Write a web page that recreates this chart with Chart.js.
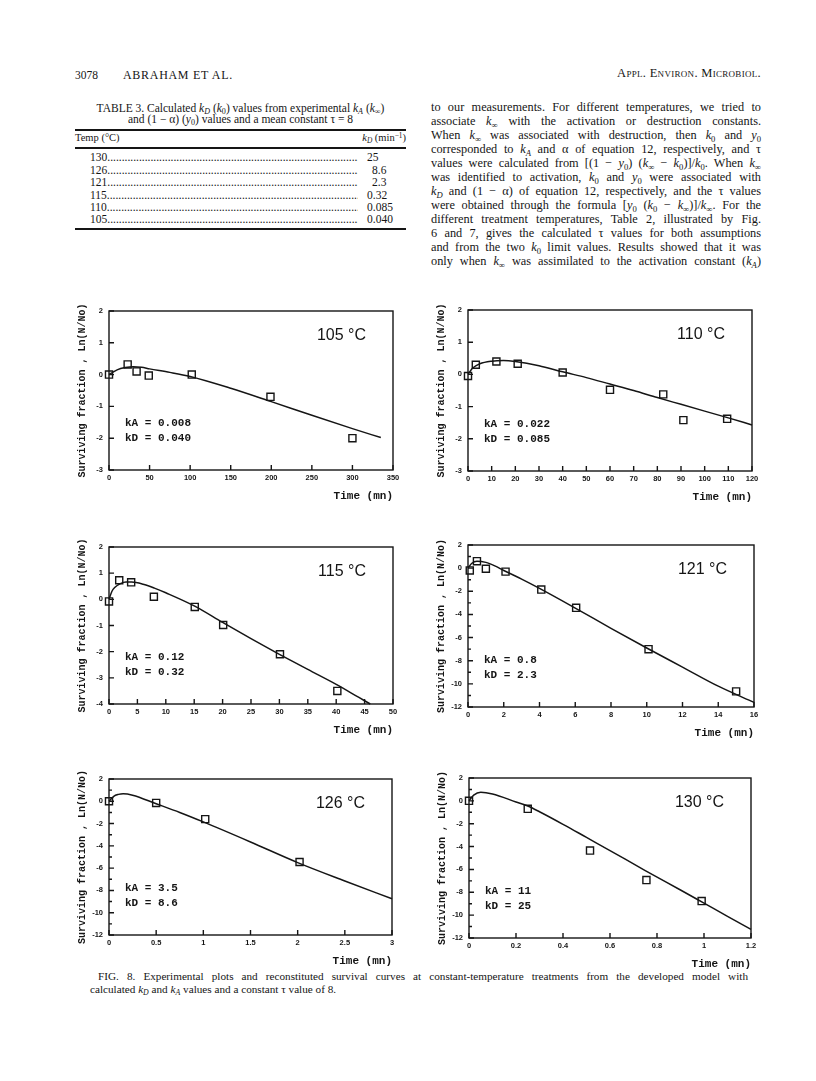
<!DOCTYPE html>
<html>
<head>
<meta charset="utf-8">
<script src="https://cdn.jsdelivr.net/npm/chart.js@4.4.1/dist/chart.umd.min.js"></script>
<style>
  html, body { margin: 0; padding: 0; background: #fff; }
  #page { position: relative; width: 816px; height: 1081px; overflow: hidden; font-family: "Liberation Serif", "Times New Roman", serif; color: #151515; }
  .abs { position: absolute; white-space: nowrap; }
  .rule { position: absolute; background: #151515; }
  sub { font-size: 70%; vertical-align: baseline; position: relative; top: 0.3em; line-height: 0; }
  sup { font-size: 70%; vertical-align: baseline; position: relative; top: -0.45em; line-height: 0; }
  .line { position: absolute; left: 431px; width: 330px; font-size: 12.3px; line-height: 14px; height: 14px; text-align: justify; text-align-last: justify; white-space: nowrap; }
  .row { position: absolute; left: 90px; width: 268px; font-size: 11.5px; line-height: 12px; overflow: hidden; white-space: nowrap; }
  .val { position: absolute; font-size: 11.5px; line-height: 12px; }
  .cap { position: absolute; font-size: 11.2px; line-height: 13px; text-align: justify; text-align-last: justify; white-space: nowrap; }
</style>
</head>
<body>
<div id="page">
  <!-- en-tête -->
  <div class="abs" style="left:75px; top:68px; font-size:11.5px; line-height:14px;">3078</div>
  <div class="abs" style="left:123px; top:68px; font-size:12px; line-height:14px; letter-spacing:0.7px;">ABRAHAM ET AL.</div>
  <div class="abs" style="left:560px; width:201px; text-align:right; top:66px; font-size:12.5px; line-height:14px; font-variant:small-caps; letter-spacing:0.3px;">Appl. Environ. Microbiol.</div>

  <!-- tableau 3 -->
  <div class="abs" style="left:75px; width:331px; top:103px; text-align:center; font-size:11.5px; line-height:11px; white-space:normal;">TABLE 3. Calculated <i>k<sub>D</sub></i> (<i>k</i><sub>0</sub>) values from experimental <i>k<sub>A</sub></i> (<i>k</i><sub>∞</sub>)<br>and (1 − α) (<i>y</i><sub>0</sub>) values and a mean constant τ = 8</div>
  <div class="rule" style="left:75px; top:129px; width:331px; height:2px;"></div>
  <div class="abs" style="left:75px; top:132px; font-size:10.5px; line-height:12px;">Temp (°C)</div>
  <div class="abs" style="left:300px; width:106px; text-align:right; top:132px; font-size:10.5px; line-height:12px;"><i>k<sub>D</sub></i> (min<sup>−1</sup>)</div>
  <div class="rule" style="left:75px; top:147px; width:331px; height:1.5px;"></div>
  <div id="rows"></div>
  <div class="rule" style="left:75px; top:228px; width:331px; height:2px;"></div>

  <!-- texte -->
  <div class="line" style="top:100px;">to our measurements. For different temperatures, we tried to</div>
  <div class="line" style="top:114px;">associate <i>k</i><sub>∞</sub> with the activation or destruction constants.</div>
  <div class="line" style="top:128px;">When <i>k</i><sub>∞</sub> was associated with destruction, then <i>k</i><sub>0</sub> and <i>y</i><sub>0</sub></div>
  <div class="line" style="top:142px;">corresponded to <i>k<sub>A</sub></i> and α of equation 12, respectively, and τ</div>
  <div class="line" style="top:156px;">values were calculated from [(1 − <i>y</i><sub>0</sub>) (<i>k</i><sub>∞</sub> − <i>k</i><sub>0</sub>)]/<i>k</i><sub>0</sub>. When <i>k</i><sub>∞</sub></div>
  <div class="line" style="top:170px;">was identified to activation, <i>k</i><sub>0</sub> and <i>y</i><sub>0</sub> were associated with</div>
  <div class="line" style="top:184px;"><i>k<sub>D</sub></i> and (1 − α) of equation 12, respectively, and the τ values</div>
  <div class="line" style="top:198px;">were obtained through the formula [<i>y</i><sub>0</sub> (<i>k</i><sub>0</sub> − <i>k</i><sub>∞</sub>)]/<i>k</i><sub>∞</sub>. For the</div>
  <div class="line" style="top:212px;">different treatment temperatures, Table 2, illustrated by Fig.</div>
  <div class="line" style="top:226px;">6 and 7, gives the calculated τ values for both assumptions</div>
  <div class="line" style="top:240px;">and from the two <i>k</i><sub>0</sub> limit values. Results showed that it was</div>
  <div class="line" style="top:254px;">only when <i>k</i><sub>∞</sub> was assimilated to the activation constant (<i>k<sub>A</sub></i>)</div>

  <!-- légende -->
  <div class="cap" style="left:98px; width:650px; top:970px;">FIG. 8. Experimental plots and reconstituted survival curves at constant-temperature treatments from the developed model with</div>
  <div class="abs" style="left:90px; top:983px; font-size:11.2px; line-height:13px;">calculated <i>k<sub>D</sub></i> and <i>k<sub>A</sub></i> values and a constant τ value of 8.</div>
</div>

<script>
// Tableau 3 : températures et kD
const tableTemps = ['130', '126', '121', '115', '110', '105'];
const tableKD = ['25', '8.6', '2.3', '0.32', '0.085', '0.040'];

// 105 °C
const t105 = [0, 23, 34, 49, 102, 199, 300];
const n105 = [0, 0.32, 0.1, -0.03, 0.0, -0.7, -2.0];
const fitT105 = [0, 5, 10, 20, 30, 40, 50, 75, 100, 150, 200, 250, 300, 335];
const fitN105 = [0, 0.08, 0.15, 0.22, 0.25, 0.23, 0.18, 0.07, -0.06, -0.43, -0.85, -1.28, -1.7, -1.98];

// 110 °C
const t110 = [0, 3.3, 12, 21, 40, 60, 82.5, 91, 109.5];
const n110 = [-0.05, 0.3, 0.4, 0.33, 0.06, -0.48, -0.62, -1.42, -1.38];
const fitT110 = [0, 2, 5, 10, 15, 20, 30, 40, 50, 60, 70, 80, 90, 100, 110, 120];
const fitN110 = [0, 0.2, 0.33, 0.41, 0.43, 0.4, 0.27, 0.08, -0.1, -0.3, -0.5, -0.72, -0.93, -1.14, -1.35, -1.57];

// 115 °C
const t115 = [0, 1.8, 3.9, 7.9, 15.1, 20.1, 30.1, 40.2];
const n115 = [-0.08, 0.73, 0.65, 0.1, -0.29, -0.98, -2.1, -3.5];
const fitT115 = [0, 0.5, 1, 2, 3, 4, 6, 8, 10, 15, 20, 25, 30, 35, 40, 44, 46];
const fitN115 = [0, 0.3, 0.45, 0.6, 0.66, 0.66, 0.58, 0.43, 0.25, -0.25, -0.88, -1.5, -2.1, -2.68, -3.25, -3.75, -4.0];

// 121 °C
const t121 = [0.1, 0.5, 1.0, 2.1, 4.1, 6.05, 10.1, 15];
const n121 = [-0.2, 0.6, -0.05, -0.3, -1.85, -3.43, -7.0, -10.65];
const fitT121 = [0, 0.2, 0.5, 1, 1.5, 2, 3, 4, 6, 8, 10, 12, 14, 16];
const fitN121 = [0, 0.4, 0.6, 0.5, 0.2, -0.2, -0.95, -1.75, -3.45, -5.2, -6.9, -8.55, -10.2, -11.6];

// 126 °C
const t126 = [0, 0.5, 1.02, 2.02];
const n126 = [0, -0.15, -1.6, -5.45];
const fitT126 = [0, 0.05, 0.1, 0.15, 0.25, 0.5, 0.75, 1, 1.5, 2, 2.5, 3];
const fitN126 = [0, 0.45, 0.62, 0.68, 0.55, -0.22, -1.0, -1.85, -3.65, -5.5, -7.15, -8.75];

// 130 °C
const t130 = [0, 0.25, 0.515, 0.755, 0.99];
const n130 = [0, -0.7, -4.35, -6.93, -8.77];
const fitT130 = [0, 0.02, 0.05, 0.1, 0.2, 0.25, 0.3, 0.4, 0.5, 0.6, 0.75, 0.9, 1, 1.1, 1.2];
const fitN130 = [0, 0.5, 0.75, 0.6, -0.1, -0.45, -0.95, -2.05, -3.2, -4.35, -6.1, -7.8, -8.95, -10.1, -11.25];

// lignes du tableau
const rowsEl = document.getElementById('rows');
const rowTops = [151, 163.5, 176, 188.5, 201, 213];
const valLeft = [367, 372, 372, 367, 367, 367];
tableTemps.forEach((temp, i) => {
    const r = document.createElement('div');
    r.className = 'row';
    r.style.top = rowTops[i] + 'px';
    r.textContent = temp + '.'.repeat(120);
    rowsEl.appendChild(r);
    const v = document.createElement('div');
    v.className = 'val';
    v.style.top = rowTops[i] + 'px';
    v.style.left = valLeft[i] + 'px';
    v.textContent = tableKD[i];
    rowsEl.appendChild(v);
});

// cadre, graduations intérieures et annotations
const panelDecor = {
    id: 'panelDecor',
    afterDraw(chart, args, opts) {
        const { ctx, chartArea: a, scales: { x, y } } = chart;
        ctx.save();
        ctx.strokeStyle = '#151515';
        ctx.lineWidth = 1.4;
        ctx.strokeRect(a.left, a.top, a.right - a.left, a.bottom - a.top);
        ctx.beginPath();
        x.ticks.forEach(t => {
            const px = x.getPixelForValue(t.value);
            ctx.moveTo(px, a.bottom);
            ctx.lineTo(px, a.bottom - 5);
        });
        y.ticks.forEach(t => {
            const py = y.getPixelForValue(t.value);
            ctx.moveTo(a.left, py);
            ctx.lineTo(a.left + 5, py);
        });
        if (opts.yMinor) {
            for (let v = y.min + opts.yMinor; v < y.max; v += 2 * opts.yMinor) {
                const py = y.getPixelForValue(v);
                ctx.moveTo(a.left, py);
                ctx.lineTo(a.left + 3, py);
            }
        }
        ctx.stroke();

        ctx.fillStyle = '#151515';
        ctx.font = '16px "Liberation Sans", Arial, sans-serif';
        ctx.textAlign = 'right';
        ctx.textBaseline = 'middle';
        ctx.fillText(opts.temp, a.right - 27, a.top + 25);

        ctx.font = 'bold 11px "Liberation Mono", monospace';
        ctx.textAlign = 'left';
        ctx.fillText('kA = ' + opts.kA, a.left + 16, a.bottom - 47);
        ctx.fillText('kD = ' + opts.kD, a.left + 16, a.bottom - 32);
        ctx.restore();
    }
};

Chart.defaults.font.family = '"Liberation Sans", Arial, sans-serif';
Chart.defaults.color = '#151515';

const fmt = (v) => String(+Number(v).toFixed(2));

const panels = [
    { temp: '105 °C', kA: '0.008', kD: '0.040', t: t105, n: n105, fitT: fitT105, fitN: fitN105, x: [0, 350, 50], y: [-3, 2, 1], yMinor: 0, box: [109, 311, 393, 470] },
    { temp: '110 °C', kA: '0.022', kD: '0.085', t: t110, n: n110, fitT: fitT110, fitN: fitN110, x: [0, 120, 10], y: [-3, 2, 1], yMinor: 0, box: [468, 310, 752, 471] },
    { temp: '115 °C', kA: '0.12', kD: '0.32', t: t115, n: n115, fitT: fitT115, fitN: fitN115, x: [0, 50, 5], y: [-4, 2, 1], yMinor: 0, box: [109, 547, 393, 704] },
    { temp: '121 °C', kA: '0.8', kD: '2.3', t: t121, n: n121, fitT: fitT121, fitN: fitN121, x: [0, 16, 2], y: [-12, 2, 2], yMinor: 1, box: [468, 545, 754, 707] },
    { temp: '126 °C', kA: '3.5', kD: '8.6', t: t126, n: n126, fitT: fitT126, fitN: fitN126, x: [0, 3, 0.5], y: [-12, 2, 2], yMinor: 1, box: [109, 779, 392, 935] },
    { temp: '130 °C', kA: '11', kD: '25', t: t130, n: n130, fitT: fitT130, fitN: fitN130, x: [0, 1.2, 0.2], y: [-12, 2, 2], yMinor: 1, box: [469, 778, 751, 938] }
];

const makePanel = (p) => {
    const [L, T, R, B] = p.box;
    const padL = 45, padT = 12, padR = 14, padB = 34;
    const w = R - L + padL + padR;
    const h = B - T + padT + padB;
    const cv = document.createElement('canvas');
    cv.width = w;
    cv.height = h;
    cv.style.cssText = `position:absolute;left:${L - padL}px;top:${T - padT}px;width:${w}px;height:${h}px;`;
    document.getElementById('page').appendChild(cv);

    new Chart(cv, {
        type: 'scatter',
        data: {
            datasets: [{
                data: p.fitT.map((t, i) => ({ x: t, y: p.fitN[i] })),
                showLine: true,
                pointRadius: 0,
                borderColor: '#151515',
                borderWidth: 1.5,
                cubicInterpolationMode: 'monotone',
                clip: false
            }, {
                data: p.t.map((t, i) => ({ x: t, y: p.n[i] })),
                showLine: false,
                pointStyle: 'rect',
                pointRadius: 5,
                borderColor: '#151515',
                backgroundColor: 'rgba(255,255,255,0)',
                borderWidth: 1.4,
                clip: false
            }]
        },
        options: {
            responsive: false,
            animation: false,
            layout: { padding: { left: 0, top: padT, right: padR, bottom: 0 } },
            plugins: {
                legend: { display: false },
                tooltip: { enabled: false },
                panelDecor: { temp: p.temp, kA: p.kA, kD: p.kD, yMinor: p.yMinor }
            },
            scales: {
                x: {
                    type: 'linear',
                    min: p.x[0],
                    max: p.x[1],
                    grid: { display: false, drawTicks: false },
                    border: { display: false },
                    ticks: { stepSize: p.x[2], padding: 3, maxRotation: 0, autoSkip: false, callback: fmt, font: { size: 7.5, weight: 'bold' } },
                    title: { display: true, text: 'Time (mn)', align: 'end', padding: { top: 0, bottom: 1 }, font: { family: '"Liberation Mono", monospace', size: 11, weight: 'bold' } },
                    afterFit: (s) => { s.height = padB; }
                },
                y: {
                    min: p.y[0],
                    max: p.y[1],
                    grid: { display: false, drawTicks: false },
                    border: { display: false },
                    ticks: { stepSize: p.y[2], padding: 6, autoSkip: false, callback: fmt, font: { size: 7.5, weight: 'bold' } },
                    title: { display: true, text: 'Surviving fraction , Ln(N/No)', padding: { top: 12, bottom: 0 }, font: { family: '"Liberation Mono", monospace', size: 10, weight: 'bold' } },
                    afterFit: (s) => { s.width = padL; }
                }
            }
        },
        plugins: [panelDecor]
    });
};

document.addEventListener('DOMContentLoaded', () => {
    panels.forEach(makePanel);
});
</script>
</body>
</html>
